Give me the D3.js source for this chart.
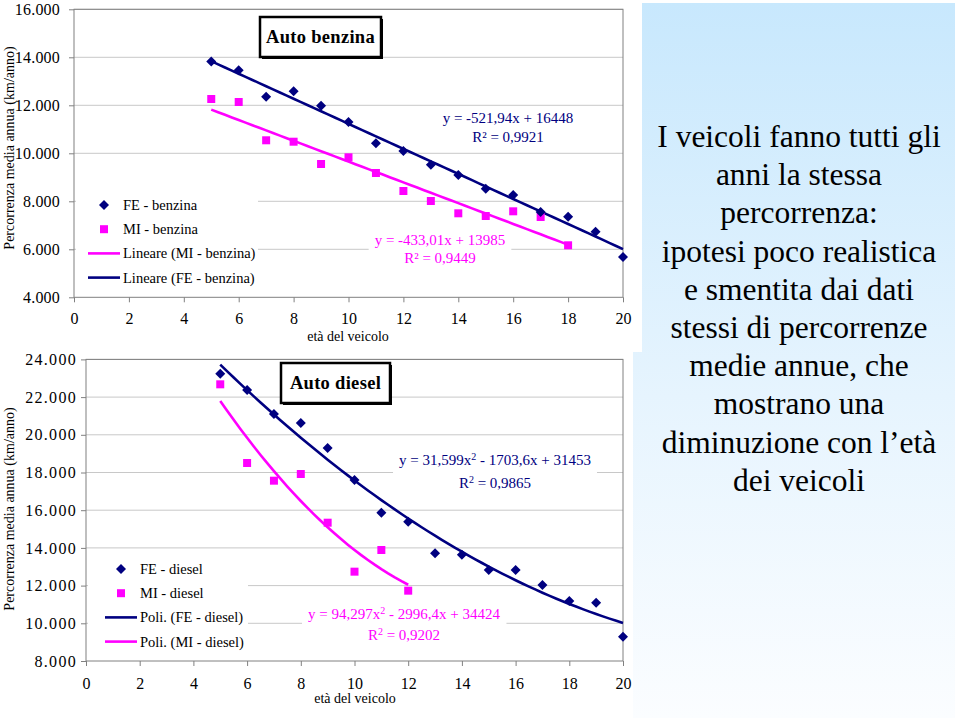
<!DOCTYPE html>
<html><head><meta charset="utf-8">
<script src="https://cdn.jsdelivr.net/npm/d3@7"></script>
<style>
html,body{margin:0;padding:0;background:#fff;}
svg{display:block;font-family:"Liberation Serif","Times New Roman",serif;}
</style></head>
<body>
<svg id="chart" width="960" height="718"></svg>
<script>
// ---------- DATA ----------
const ageFEbenzina = [5,6,7,8,9,10,11,12,13,14,15,16,17,18,19,20];
const feBenzina = [13830,13458,12358,12583,11983,11304,10417,10096,9525,9096,8525,8263,7554,7358,6733,5679];
const ageMIbenzina = [5,6,7,8,9,10,11,12,13,14,15,16,17,18];
const miBenzina = [12263,12138,10542,10483,9554,9833,9179,8429,8013,7500,7388,7583,7346,6167];
const ageFEdiesel = [5,6,7,8,9,10,11,12,13,14,15,16,17,18,19,20];
const feDiesel = [23241,22377,21103,20626,19300,17602,15868,15390,13713,13640,12828,12828,12032,11183,11094,9290];
const ageMIdiesel = [5,6,7,8,9,10,11,12];
const miDiesel = [22678,18504,17566,17920,15337,12739,13889,11731];
// trendline coefficients as printed on the chart [c2, c1, c0]
const trendFEbenzina = [0, -521.94, 16448];
const trendMIbenzina = [0, -433.01, 13985];
const trendFEdiesel = [31.599, -1703.6, 31453];
const trendMIdiesel = [94.297, -2996.4, 34424];
const xTicks = [0,2,4,6,8,10,12,14,16,18,20];
const yTicksBenzina = [4000,6000,8000,10000,12000,14000,16000];
const yTicksDiesel = [8000,10000,12000,14000,16000,18000,20000,22000,24000];
const legendBenzina = ["FE - benzina","MI - benzina","Lineare (MI - benzina)","Lineare (FE - benzina)"];
const legendDiesel = ["FE - diesel","MI - diesel","Poli. (FE - diesel)","Poli. (MI - diesel)"];
const yTitle = "Percorrenza media annua (km/anno)";
const xTitle = "età del veicolo";
const panelLines = ["I veicoli fanno tutti gli","anni la stessa","percorrenza:","ipotesi poco realistica","e smentita dai dati","stessi di percorrenze","medie annue, che","mostrano una","diminuzione con l’età","dei veicoli"];

const NAVY = "#000080", MAG = "#ff00ff";
const svg = d3.select("#chart");
const loc = d3.formatLocale({decimal:",", thousands:".", grouping:[3], currency:["","€"]});
const fmt = loc.format(",d");
const SERIF = "Liberation Serif, Times New Roman, serif";

// right panel
const defs = svg.append("defs");
const grad = defs.append("linearGradient").attr("id","pg").attr("x1",0).attr("y1",0).attr("x2",0).attr("y2",1);
grad.append("stop").attr("offset","0").attr("stop-color","#c8e8fd");
grad.append("stop").attr("offset","0.55").attr("stop-color","#e6f4fe");
grad.append("stop").attr("offset","1").attr("stop-color","#fbfdff");
svg.append("rect").attr("x",633).attr("y",3).attr("width",322).attr("height",715).attr("fill","url(#pg)");
svg.append("rect").attr("x",0).attr("y",0).attr("width",642).attr("height",352).attr("fill","#fff");

const pt = svg.append("text").attr("text-anchor","middle").attr("font-size",31.5).attr("font-family",SERIF).attr("fill","#000");
panelLines.forEach((l,i)=>{
  pt.append("tspan").attr("x",799).attr("y",147+i*38.2).text(l);
});

function drawChart(c){
  const g = svg.append("g").attr("font-family",SERIF);
  const x = d3.scaleLinear().domain([0,20]).range(c.xr);
  const y = d3.scaleLinear().domain(c.yd).range(c.yr);
  // gridlines
  g.append("g").selectAll("line").data(c.yTicks.slice(1)).join("line")
    .attr("x1",c.xr[0]).attr("x2",c.xr[1]).attr("y1",d=>y(d)).attr("y2",d=>y(d))
    .attr("stroke","#c8c8c8").attr("stroke-width",1);
  // axes
  const ya = g.append("g").attr("transform",`translate(${c.xr[0]},0)`)
    .call(d3.axisLeft(y).tickValues(c.yTicks).tickFormat(fmt).tickSize(5).tickSizeOuter(0).tickPadding(c.yPad));
  const xa = g.append("g").attr("transform",`translate(0,${c.yr[0]})`)
    .call(d3.axisBottom(x).tickValues(xTicks).tickSize(5).tickSizeOuter(0).tickPadding(c.xPad));
  [ya,xa].forEach(a=>{
    a.attr("font-family",SERIF);
    a.select(".domain").remove();
    a.selectAll(".tick line").attr("stroke","#808080");
    a.selectAll("text").attr("font-family",SERIF).attr("font-size",16).attr("fill","#000");
  });
  ya.selectAll("text").attr("letter-spacing",c.yls);
  // frame
  g.append("rect").attr("x",c.xr[0]).attr("y",c.yr[1]).attr("width",c.xr[1]-c.xr[0]).attr("height",c.yr[0]-c.yr[1])
    .attr("fill","none").attr("stroke","#808080").attr("stroke-width",1);
  // titles
  g.append("text").attr("transform",`translate(${c.ytx},${c.yty}) rotate(-90)`).attr("text-anchor","middle")
    .attr("font-size",14).attr("dy","0.35em").text(yTitle);
  g.append("text").attr("x",c.xtx).attr("y",c.xty).attr("text-anchor","middle").attr("font-size",14).text(xTitle);

  // legend box
  g.append("rect").attr("x",c.lb[0]).attr("y",c.lb[1]).attr("width",c.lb[2]).attr("height",c.lb[3]).attr("fill","#fff");
  // equation labels
  c.eqs.forEach(e=>{
    const t = g.append("text").attr("text-anchor","middle").attr("font-size",15).attr("fill",e.color);
    e.lines.forEach((ln,i)=>{
      const tl = t.append("tspan").attr("x",e.x).attr("y",e.y+i*e.dy);
      ln.forEach(p=>{
        const s = tl.append("tspan").text(p.t);
        if(p.sup){ s.attr("font-size",10).attr("baseline-shift","super"); }
      });
    });
    const bb = t.node().getBBox();
    g.insert("rect", function(){return t.node();}).attr("x",bb.x-6).attr("y",bb.y-3).attr("width",bb.width+12).attr("height",bb.height+6).attr("fill","#fff");
  });

  // trendlines
  const line = d3.line().x(d=>x(d[0])).y(d=>y(d[1]));
  c.trends.forEach(tr=>{
    const [a,b,k] = tr.coef;
    const pts = d3.range(tr.from, tr.to+0.0001, 0.25).map(v=>[v, a*v*v+b*v+k]);
    g.append("path").datum(pts).attr("d",line).attr("fill","none").attr("stroke",tr.color).attr("stroke-width",2.6);
  });
  // points
  const fe = c.fe.ages.map((a,i)=>[a,c.fe.vals[i]]);
  const mi = c.mi.ages.map((a,i)=>[a,c.mi.vals[i]]);
  g.append("g").selectAll("path").data(mi).join("path")
    .attr("d",d3.symbol().type(d3.symbolSquare).size(64)).attr("transform",d=>`translate(${x(d[0])},${y(d[1])})`).attr("fill",MAG);
  g.append("g").selectAll("path").data(fe).join("path")
    .attr("d","M0,-5L5,0L0,5L-5,0Z").attr("transform",d=>`translate(${x(d[0])},${y(d[1])})`).attr("fill",NAVY);

  // title box
  g.append("rect").attr("x",c.tb[0]+2).attr("y",c.tb[1]+2).attr("width",c.tb[2]).attr("height",c.tb[3]).attr("fill","#000");
  g.append("rect").attr("x",c.tb[0]).attr("y",c.tb[1]).attr("width",c.tb[2]).attr("height",c.tb[3]).attr("fill","#fff").attr("stroke","#000").attr("stroke-width",2.5);
  g.append("text").attr("x",c.tb[0]+c.tb[2]/2).attr("y",c.tb[1]+c.tb[3]/2+6).attr("text-anchor","middle")
    .attr("font-size",18.5).attr("font-weight","bold").attr("letter-spacing",0.3).text(c.title);

  // legend
  const lg = g.append("g");
  c.legend.forEach((txt,i)=>{
    const yy = c.lp[1]+i*24.2;
    if(i===0) lg.append("path").attr("d","M0,-5L5,0L0,5L-5,0Z").attr("transform",`translate(${c.lp[0]+16},${yy})`).attr("fill",NAVY);
    else if(i===1) lg.append("rect").attr("x",c.lp[0]+12).attr("y",yy-4).attr("width",8).attr("height",8).attr("fill",MAG);
    else lg.append("line").attr("x1",c.lp[0]).attr("x2",c.lp[0]+32).attr("y1",yy).attr("y2",yy).attr("stroke",c.legendLineColors[i-2]).attr("stroke-width",2.6);
    lg.append("text").attr("x",c.lp[0]+35).attr("y",yy+5).attr("font-size",14.5).text(txt);
  });
}

drawChart({
  xr:[74,623], yd:[4000,16000], yr:[297.3,9.3], yTicks:yTicksBenzina, yPad:9, xPad:10, yls:0.2,
  ytx:9, yty:148, xtx:348, xty:341,
  lb:[76,188,182,104], lp:[88,205], legend:legendBenzina, legendLineColors:[MAG,NAVY],
  tb:[260,17,121,40], title:"Auto benzina",
  fe:{ages:ageFEbenzina, vals:feBenzina}, mi:{ages:ageMIbenzina, vals:miBenzina},
  trends:[{coef:trendMIbenzina, from:5, to:18, color:MAG},{coef:trendFEbenzina, from:5, to:20, color:NAVY}],
  eqs:[
    {x:508, y:123, dy:19, color:NAVY, lines:[[{t:"y = -521,94x + 16448"}],[{t:"R² = 0,9921"}]]},
    {x:440, y:245, dy:18, color:MAG, lines:[[{t:"y = -433,01x + 13985"}],[{t:"R² = 0,9449"}]]}
  ]
});
drawChart({
  xr:[86,623], yd:[8000,24000], yr:[661,359.4], yTicks:yTicksDiesel, yPad:4, xPad:12, yls:1.3,
  ytx:9, yty:509, xtx:355, xty:703,
  lb:[88,553,160,102], lp:[105,569], legend:legendDiesel, legendLineColors:[NAVY,MAG],
  tb:[281,363,109,40], title:"Auto diesel",
  fe:{ages:ageFEdiesel, vals:feDiesel}, mi:{ages:ageMIdiesel, vals:miDiesel},
  trends:[{coef:trendMIdiesel, from:5, to:12, color:MAG},{coef:trendFEdiesel, from:5, to:20, color:NAVY}],
  eqs:[
    {x:495, y:465, dy:23, color:NAVY, lines:[[{t:"y = 31,599x"},{t:"2",sup:true},{t:" - 1703,6x + 31453"}],[{t:"R"},{t:"2",sup:true},{t:" = 0,9865"}]]},
    {x:404, y:619, dy:21, color:MAG, lines:[[{t:"y = 94,297x"},{t:"2",sup:true},{t:" - 2996,4x + 34424"}],[{t:"R"},{t:"2",sup:true},{t:" = 0,9202"}]]}
  ]
});
</script>
</body></html>
